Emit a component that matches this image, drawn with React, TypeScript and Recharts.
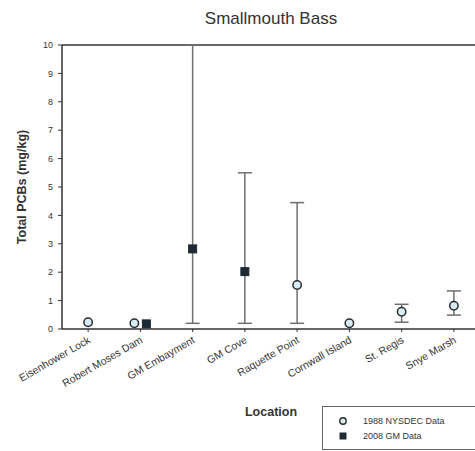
import React from 'react';
import { ScatterChart, Scatter, XAxis, YAxis, ErrorBar, ReferenceLine, Label } from 'recharts';

const categories = [
  'Eisenhower Lock',
  'Robert Moses Dam',
  'GM Embayment',
  'GM Cove',
  'Raquette Point',
  'Cornwall Island',
  'St. Regis',
  'Snye Marsh',
];

const nysdec1988 = [0.24, 0.2, null, null, 1.55, 0.2, 0.61, 0.82];
const nysdec1988Low = [null, null, null, null, 0.2, null, 0.24, 0.49];
const nysdec1988High = [null, null, null, null, 4.45, null, 0.87, 1.34];

const gm2008 = [null, 0.18, 2.82, 2.02, null, null, null, null];
const gm2008Low = [null, null, 0.2, 0.2, null, null, null, null];
const gm2008High = [null, null, 10.0, 5.5, null, null, null, null];

const yTicks = [0, 1, 2, 3, 4, 5, 6, 7, 8, 9, 10];
const xTicks = categories.map((_, i) => i + 1);

const FONT = '"Liberation Sans", Arial, Helvetica, sans-serif';

type Pt = { x: number; y: number; err: number[] | null };

function buildSeries(
  values: (number | null)[],
  lows: (number | null)[],
  highs: (number | null)[],
  other: (number | null)[],
  shift: number
): Pt[] {
  const out: Pt[] = [];
  values.forEach((v, i) => {
    if (v == null) return;
    const lo = lows[i];
    const hi = highs[i];
    out.push({
      x: i + 1 + (other[i] != null ? shift : 0),
      y: v,
      err: lo != null && hi != null ? [v - lo, hi - v] : null,
    });
  });
  return out;
}

const data1988 = buildSeries(nysdec1988, nysdec1988Low, nysdec1988High, gm2008, -0.115);
const data2008 = buildSeries(gm2008, gm2008Low, gm2008High, nysdec1988, 0.115);

const CircleShape = (props: any) => (
  <circle cx={props.cx} cy={props.cy} r={4.2} fill="#d6ecf6" stroke="#2a2a2a" strokeWidth={1.5} />
);
const SquareShape = (props: any) => (
  <rect x={props.cx - 4} y={props.cy - 4} width={8} height={8} fill="#1d2a33" stroke="#1d2a33" />
);

const CatTick = (props: any) => {
  const { x, y, payload } = props;
  const label = categories[Math.round(payload.value) - 1] ?? '';
  return (
    <text
      x={x + 3}
      y={y + 8}
      textAnchor="end"
      fontSize={10.5}
      fill="#333"
      fontFamily={FONT}
      transform={`rotate(-30 ${x + 3} ${y + 8})`}
    >
      {label}
    </text>
  );
};

export default function App() {
  return (
    <div
      style={{
        position: 'absolute',
        left: 0,
        top: 0,
        width: 475,
        height: 451,
        overflow: 'hidden',
        background: '#fff',
        fontFamily: FONT,
      }}
    >
      <div
        style={{
          position: 'absolute',
          left: 0,
          top: 9,
          width: 542,
          textAlign: 'center',
          fontSize: 17,
          color: '#333',
        }}
      >
        Smallmouth Bass
      </div>
      <ScatterChart width={490} height={451} margin={{ top: 45, right: 10, bottom: 42, left: 0 }}>
        <XAxis
          type="number"
          dataKey="x"
          domain={[0.5, 8.5]}
          ticks={xTicks}
          interval={0}
          tick={<CatTick />}
          tickSize={3}
          tickLine={{ stroke: '#333' }}
          axisLine={{ stroke: '#333', strokeWidth: 1.5 }}
          height={80}
          allowDataOverflow
        >
          <Label
            value="Location"
            position="center"
            dy={43}
            style={{ fontSize: 12.5, fontWeight: 'bold', fill: '#333', fontFamily: FONT }}
          />
        </XAxis>
        <YAxis
          type="number"
          dataKey="y"
          domain={[0, 10]}
          ticks={yTicks}
          interval={0}
          width={62}
          tickSize={4}
          tickMargin={5}
          tick={{ fontSize: 9, fill: '#333', fontFamily: FONT }}
          tickLine={{ stroke: '#333' }}
          axisLine={{ stroke: '#333', strokeWidth: 1.5 }}
        >
          <Label
            value="Total PCBs (mg/kg)"
            angle={-90}
            position="center"
            dx={-9}
            style={{ fontSize: 12.5, fontWeight: 'bold', fill: '#333', fontFamily: FONT }}
          />
        </YAxis>
        <ReferenceLine y={10} stroke="#333" strokeWidth={1.5} />
        <Scatter data={data1988} shape={CircleShape} isAnimationActive={false}>
          <ErrorBar dataKey="err" direction="y" width={7} stroke="#6f6f6f" strokeWidth={1.5} />
        </Scatter>
        <Scatter data={data2008} shape={SquareShape} isAnimationActive={false}>
          <ErrorBar dataKey="err" direction="y" width={7} stroke="#6f6f6f" strokeWidth={1.5} />
        </Scatter>
      </ScatterChart>
      <div
        style={{
          position: 'absolute',
          left: 322,
          top: 406,
          width: 170,
          height: 42,
          border: '1.5px solid #666',
          fontSize: 9,
          color: '#333',
        }}
      >
        <div style={{ position: 'absolute', left: 15, top: 9, display: 'flex', alignItems: 'center' }}>
          <svg width={10} height={10} style={{ marginRight: 15 }}>
            <circle cx={5} cy={5} r={3.2} fill="#d6ecf6" stroke="#2a2a2a" strokeWidth={1.4} />
          </svg>
          <span>1988 NYSDEC Data</span>
        </div>
        <div style={{ position: 'absolute', left: 15, top: 24, display: 'flex', alignItems: 'center' }}>
          <svg width={10} height={10} style={{ marginRight: 15 }}>
            <rect x={1.5} y={1.5} width={7} height={7} fill="#1d2a33" />
          </svg>
          <span>2008 GM Data</span>
        </div>
      </div>
    </div>
  );
}
